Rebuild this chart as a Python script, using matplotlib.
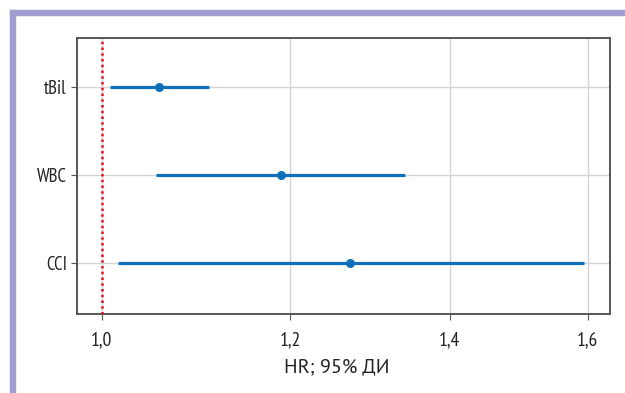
import matplotlib
matplotlib.use("Agg")
import matplotlib.pyplot as plt
from matplotlib.patches import Rectangle
from matplotlib.ticker import FixedLocator, NullLocator

# hazard ratios with 95% confidence limits
factors = ["tBil", "WBC", "CCI"]
hr = [1.057, 1.189, 1.272]
ci_low = [1.008, 1.054, 1.016]
ci_high = [1.109, 1.341, 1.595]

x_ticks = [1.0, 1.2, 1.4, 1.6]
x_tick_labels = ["1,0", "1,2", "1,4", "1,6"]

plt.rcParams["font.family"] = ["PT Sans Narrow", "DejaVu Sans"]

fig = plt.figure(figsize=(6.25, 3.93), dpi=100)

# frame lines along the top and left edges
frame_color = "#a09fd2"
fig.patches.append(Rectangle((10 / 625, 0), 5 / 625, 383 / 393,
                             transform=fig.transFigure, color=frame_color))
fig.patches.append(Rectangle((10 / 625, 378 / 393), 615 / 625, 5 / 393,
                             transform=fig.transFigure, color=frame_color))

ax = fig.add_axes([0.1227, 0.2003, 0.976 - 0.1227, 0.9025 - 0.2003])

ypos = list(range(len(factors)))[::-1]
point_color = "#0f6fb8"

for y, m, lo, hi in zip(ypos, hr, ci_low, ci_high):
    ax.plot([lo, hi], [y, y], color=point_color, linewidth=2.3,
            solid_capstyle="butt", zorder=3)
    ax.plot(m, y, "o", color=point_color, markersize=5.5, zorder=4)

ax.axvline(1.0, color="#e8121c", linestyle=(0, (1, 1.3)), linewidth=1.8,
           zorder=5)

ax.set_xscale("log")
ax.set_xlim(0.976, 1.635)
ax.xaxis.set_major_locator(FixedLocator(x_ticks))
ax.xaxis.set_minor_locator(NullLocator())
ax.set_xticklabels(x_tick_labels)

ax.set_yticks(ypos)
ax.set_yticklabels(factors)
ax.set_ylim(-0.584, 2.558)

ax.grid(True, color="#d4d4d4", linewidth=1.0, zorder=0)
ax.set_axisbelow(True)

for spine in ax.spines.values():
    spine.set_color("#555555")
    spine.set_linewidth(1.4)

ax.tick_params(axis="both", colors="#222222", length=4, width=0.8)
ax.tick_params(axis="both", color="#555555")
ax.tick_params(axis="y", labelsize=13.5, pad=3)
ax.tick_params(axis="x", labelsize=14, pad=8.5)
ax.set_xlabel("HR; 95% ДИ", fontsize=14.5, color="#222222", labelpad=6,
              family=["PT Sans", "DejaVu Sans"])
ax.xaxis.label.set_x(0.487)

fig.savefig("out.png", dpi=100)
